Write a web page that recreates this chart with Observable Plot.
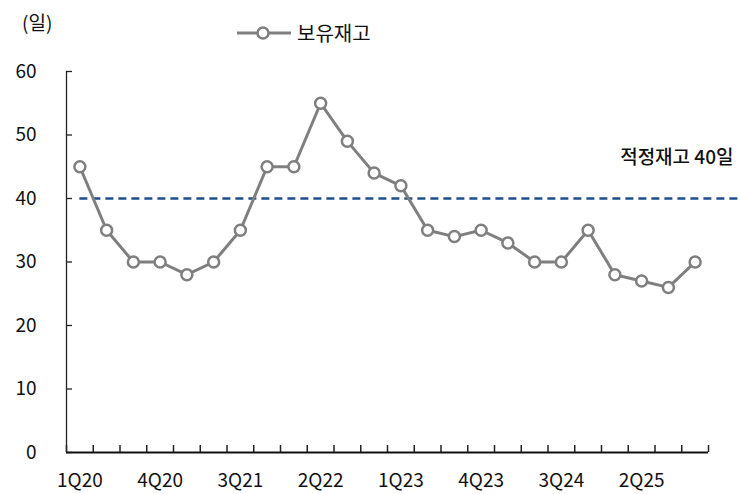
<!DOCTYPE html>
<html>
<head>
<meta charset="utf-8">
<script src="https://cdn.jsdelivr.net/npm/d3@7"></script>
<script src="https://cdn.jsdelivr.net/npm/@observablehq/plot@0.6"></script>
<style>
  html, body { margin: 0; padding: 0; background: #fff; }
  body { width: 740px; height: 494px; overflow: hidden; font-family: "Noto Sans CJK KR", "Noto Sans", sans-serif; }
  #head { position: relative; height: 55px; }
  #unit { position: absolute; left: 22px; top: 8px; font-size: 19px; color: #111; }
  #legend { position: absolute; left: 237px; top: 18px; display: flex; align-items: center; font-size: 20px; color: #111; }
  #legend svg { margin-right: 6px; }
  #chart svg { display: block; }
</style>
</head>
<body>
<div id="head">
  <div id="unit">(일)</div>
  <div id="legend"></div>
</div>
<div id="chart"></div>
<script>
// Quarterly inventory holding days
const quarters = ["1Q20","2Q20","3Q20","4Q20","1Q21","2Q21","3Q21","4Q21",
                  "1Q22","2Q22","3Q22","4Q22","1Q23","2Q23","3Q23","4Q23",
                  "1Q24","2Q24","3Q24","4Q24","1Q25","2Q25","3Q25","4Q25"];
const values = [45,35,30,30,28,30,35,45,45,55,49,44,42,35,34,35,33,30,30,35,28,27,26,30];
const seriesName = "보유재고";
const targetDays = 40;
const targetLabel = "적정재고 40일";
const yTicks = [0,10,20,30,40,50,60];

const data = quarters.map((q, i) => ({i, q, v: values[i]}));
const labelIdx = d3.range(0, quarters.length, 3);
const bounds = d3.range(-0.5, quarters.length, 1);
const xMin = -0.5, xMax = quarters.length - 0.5;

const lineColor = "#7f7f7f";
const dashColor = "#1f4e8f";

// legend swatch
document.getElementById("legend").innerHTML =
  `<svg width="54" height="14"><line x1="0" y1="7" x2="54" y2="7" stroke="${lineColor}" stroke-width="3"/>` +
  `<circle cx="26" cy="7" r="5.5" fill="#fff" stroke="${lineColor}" stroke-width="2.5"/></svg>` +
  `<span>${seriesName}</span>`;

const chart = Plot.plot({
  width: 740,
  height: 439,
  marginTop: 16,
  marginBottom: 42,
  marginLeft: 66,
  marginRight: 32,
  style: {fontFamily: '"Noto Sans CJK KR", "Noto Sans", sans-serif', fontSize: "18px", color: "#111"},
  x: {type: "linear", domain: [xMin, xMax], label: null},
  y: {domain: [0, 60], label: null},
  marks: [
    // target level
    Plot.ruleY([targetDays], {x1: 0, x2: xMax, insetRight: -32, stroke: dashColor, strokeWidth: 2.5, strokeDasharray: "8,5"}),
    Plot.text([targetLabel], {x: xMax, y: targetDays, text: d => d, textAnchor: "end", dx: 25, dy: -41,
      fontSize: 19, fontWeight: 500, fill: "#111"}),
    // axes
    Plot.axisY({ticks: yTicks, tickSize: 0, tickPadding: 30, fontSize: 19, label: null}),
    Plot.axisX({ticks: labelIdx, tickFormat: i => quarters[i], tickSize: 0, tickPadding: 21, fontSize: 19, label: null}),
    Plot.ruleX([xMin], {y1: 0, y2: 60, stroke: "#222", strokeWidth: 1.3}),
    Plot.ruleY(yTicks, {x1: xMin, x2: xMin, insetRight: -6, stroke: "#222", strokeWidth: 1.3}),
    Plot.ruleX(bounds, {y1: 0, y2: 0, insetTop: -7, stroke: "#222", strokeWidth: 1.5}),
    Plot.ruleY([0], {x1: xMin, x2: xMax, stroke: "#111", strokeWidth: 2}),
    // series
    Plot.line(data, {x: "i", y: "v", stroke: lineColor, strokeWidth: 3}),
    Plot.dot(data, {x: "i", y: "v", r: 5.5, fill: "#fff", stroke: lineColor, strokeWidth: 2.5})
  ]
});
document.getElementById("chart").appendChild(chart);
</script>
</body>
</html>
